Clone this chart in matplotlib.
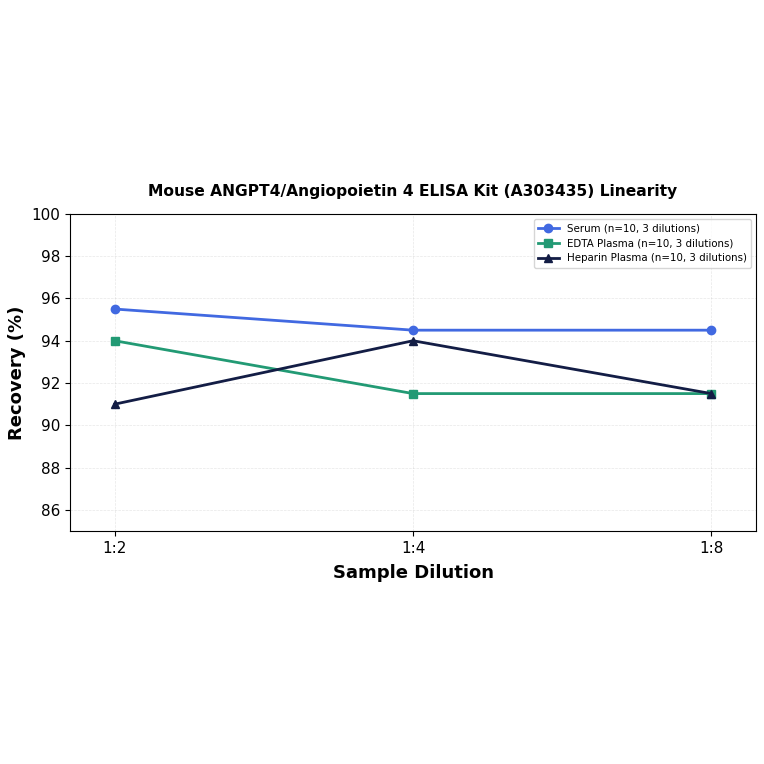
import matplotlib
matplotlib.use("Agg")
import matplotlib.pyplot as plt

dilutions = ["1:2", "1:4", "1:8"]
serum = [95.5, 94.5, 94.5]
edta = [94.0, 91.5, 91.5]
heparin = [91.0, 94.0, 91.5]
labels = ["Serum (n=10, 3 dilutions)", "EDTA Plasma (n=10, 3 dilutions)", "Heparin Plasma (n=10, 3 dilutions)"]

fig = plt.figure(figsize=(7.64, 7.64), dpi=100)
ax = fig.add_axes([0.0916, 0.305, 0.898, 0.415])
x = list(range(len(dilutions)))
ax.plot(x, serum, color="#4169E1", marker="o", lw=2, ms=6, label=labels[0])
ax.plot(x, edta, color="#229A74", marker="s", lw=2, ms=6, label=labels[1])
ax.plot(x, heparin, color="#131D45", marker="^", lw=2, ms=6, label=labels[2])
ax.set_xticks(x)
ax.set_xticklabels(dilutions, fontsize=11)
ax.set_xlim(-0.15, 2.15)
ax.set_ylim(85, 100)
ax.set_yticks([86, 88, 90, 92, 94, 96, 98, 100])
ax.tick_params(axis="y", labelsize=11)
ax.grid(True, alpha=0.3, linestyle="--", linewidth=0.5)
ax.set_xlabel("Sample Dilution", fontsize=13, fontweight="bold", labelpad=6)
ax.set_ylabel("Recovery (%)", fontsize=13, fontweight="bold")
ax.set_title("Mouse ANGPT4/Angiopoietin 4 ELISA Kit (A303435) Linearity", fontsize=11.2, fontweight="bold", pad=13)
ax.legend(loc="upper right", fontsize=7.4)
fig.savefig("out.png", dpi=100)
